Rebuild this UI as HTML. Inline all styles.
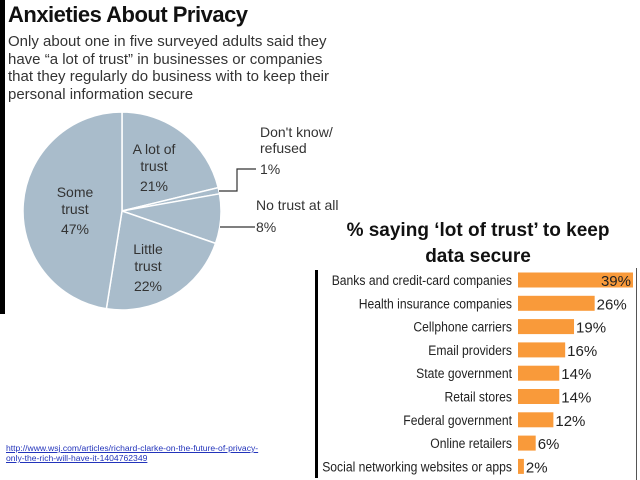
<!DOCTYPE html>
<html><head><meta charset="utf-8">
<style>
html,body{margin:0;padding:0;background:#fff;}
#root{position:relative;width:640px;height:480px;overflow:hidden;font-family:"Liberation Sans",sans-serif;color:#222;}
.abs{position:absolute;white-space:nowrap;}
</style></head>
<body>
<div id="root">
<div class="abs" style="left:0;top:0;width:5px;height:314px;background:#000"></div>
<div class="abs" style="left:8px;top:2px;font-size:22px;font-weight:bold;letter-spacing:-0.5px;color:#111">Anxieties About Privacy</div>
<div class="abs" style="left:8px;top:33px;font-size:15px;line-height:17.5px;color:#333">Only about one in five surveyed adults said they<br>have “a lot of trust” in businesses or companies<br>that they regularly do business with to keep their<br>personal information secure</div>
<svg class="abs" style="left:0;top:0" width="640" height="480"></svg>
<div class="abs" style="left:318px;top:218px;width:320px;text-align:center;font-size:19px;font-weight:bold;line-height:26px;color:#111">% saying ‘lot of trust’ to keep<br>data secure</div>
<div class="abs" style="left:315px;top:270px;width:3px;height:208px;background:#000"></div>
<div class="abs" style="left:636px;top:268px;width:1px;height:212px;background:#555"></div>
<div class="abs" style="left:6px;top:443px;font-size:8.6px;line-height:10px;color:#2233bb;text-decoration:underline">http://www.wsj.com/articles/richard-clarke-on-the-future-of-privacy-<br>only-the-rich-will-have-it-1404762349</div>
</div>
<script>
const pieLabels=["A lot of trust","Don't know/refused","No trust at all","Little trust","Some trust"];
const pieValues=[21,1,8,22,47];
const barCategories=["Banks and credit-card companies","Health insurance companies","Cellphone carriers","Email providers","State government","Retail stores","Federal government","Online retailers","Social networking websites or apps"];
const barValues=[39,26,19,16,14,14,12,6,2];

const NS="http://www.w3.org/2000/svg";
const svg=document.querySelector('svg');
const cx=122,cy=211,r=99;
const total=pieValues.reduce((a,b)=>a+b,0);
function pt(a,rr){return [cx+rr*Math.sin(a),cy-rr*Math.cos(a)];}
let acc=0;
pieValues.forEach((v,i)=>{
  const a0=acc/total*2*Math.PI;acc+=v;const a1=acc/total*2*Math.PI;
  const p0=pt(a0,r),p1=pt(a1,r);
  const p=document.createElementNS(NS,'path');
  p.setAttribute('d',`M${cx},${cy}L${p0[0]},${p0[1]}A${r},${r} 0 ${a1-a0>Math.PI?1:0} 1 ${p1[0]},${p1[1]}Z`);
  p.setAttribute('fill','#a9bccb');p.setAttribute('stroke','#fff');p.setAttribute('stroke-width','1.5');
  
  
  svg.appendChild(p);
});
function txt(x,y,s,anchor,size){const t=document.createElementNS(NS,'text');t.setAttribute('x',x);t.setAttribute('y',y);t.setAttribute('text-anchor',anchor);t.setAttribute('font-size',size);t.setAttribute('fill','#333');t.setAttribute('font-family','Liberation Sans, sans-serif');t.textContent=s;svg.appendChild(t);return t;}
function line(d){const p=document.createElementNS(NS,'path');p.setAttribute('d',d);p.setAttribute('stroke','#333');p.setAttribute('stroke-width','1.2');p.setAttribute('fill','none');svg.appendChild(p);return p;}
let t;
t=txt(154,154,'A lot of','middle',14);
txt(154,171,'trust','middle',14);
t=txt(154,191,pieValues[0]+'%','middle',14);
t=txt(75,197,'Some','middle',14);
txt(75,214,'trust','middle',14);
txt(75,234,pieValues[4]+'%','middle',14);
t=txt(148,254,'Little','middle',14);
txt(148,271,'trust','middle',14);
txt(148,291,pieValues[3]+'%','middle',14);
t=txt(260,137,"Don't know/",'start',14);
txt(260,153,'refused','start',14);
txt(260,174,pieValues[1]+'%','start',14);
line('M219,191L237,191L237,169L256,169');
t=txt(256,210,'No trust at all','start',14);
txt(256,232,pieValues[2]+'%','start',14);
line('M220,227L255,227');

const x0=518,pxPer=115/39,rowTop=280,rowStep=23.3,bh=15;
barCategories.forEach((c,i)=>{
  const y=rowTop+i*rowStep;
  const w=barValues[i]*pxPer;
  const rc=document.createElementNS(NS,'rect');
  rc.setAttribute('x',x0);rc.setAttribute('y',y-bh/2);rc.setAttribute('width',w);rc.setAttribute('height',bh);rc.setAttribute('fill','#f99a3a');
  
  
  svg.appendChild(rc);
  const l=txt(512,y+5,c,'end',13.5);
  
  
  l.setAttribute('fill','#222');
  const nl=l.getComputedTextLength();
  if(nl>0){l.setAttribute('textLength',(nl*0.9).toFixed(1));l.setAttribute('lengthAdjust','spacingAndGlyphs');}
  const inside=w>100;
  const v=txt(inside?x0+w-2:x0+w+2,y+6,barValues[i]+'%',inside?'end':'start',15);
  
  
  v.setAttribute('fill','#222');
});
</script>
</body></html>
